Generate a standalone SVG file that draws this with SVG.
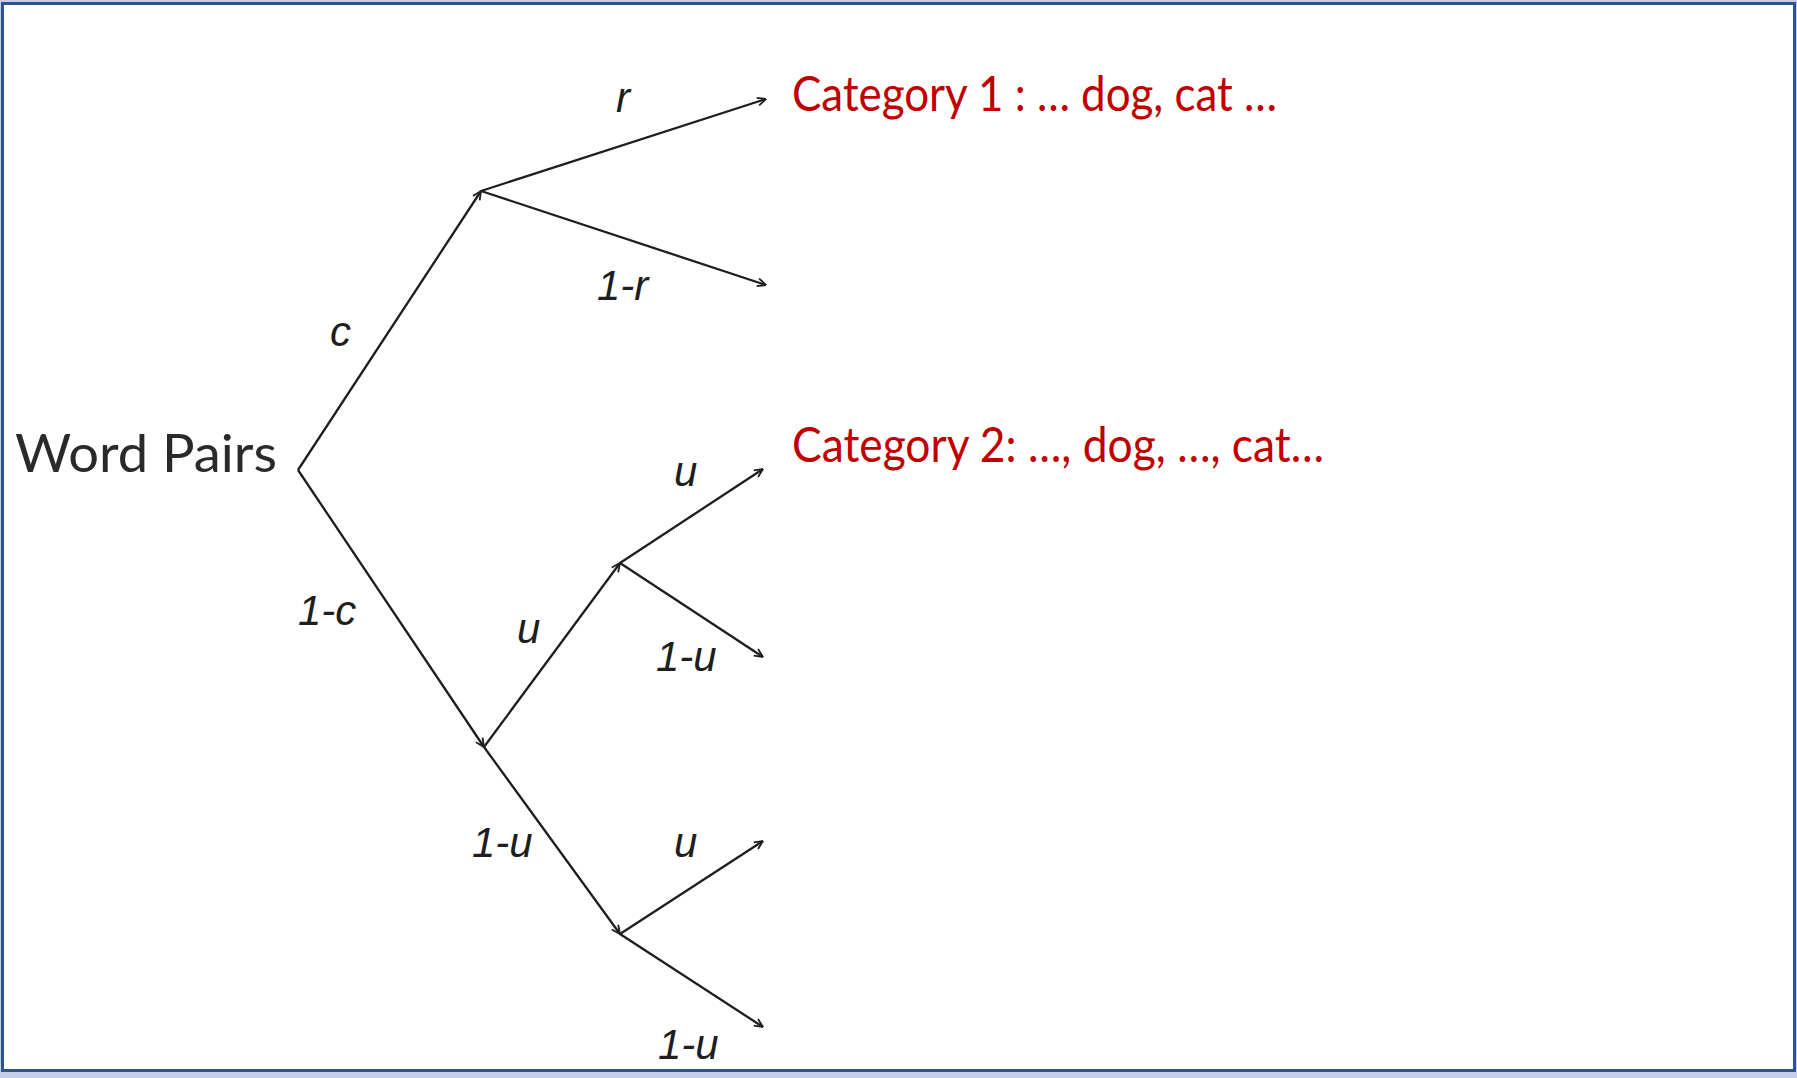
<svg xmlns="http://www.w3.org/2000/svg" width="1797" height="1078" viewBox="0 0 1797 1078">
<defs>
<style>
.edge{stroke:#1e1e1e;stroke-width:2.3;fill:none;marker-end:url(#arr)}
.lbl{font-family:"Liberation Sans",Arial,sans-serif;font-style:italic;font-size:42px;fill:#1e1e1e}
.cat{font-family:Lato,"Open Sans",sans-serif;font-size:49px;fill:#c00000}
.root{font-family:Lato,"Open Sans",sans-serif;font-size:52px;fill:#2a2a2a}
</style>
<marker id="arr" viewBox="0 0 10 10" refX="9.5" refY="5" markerWidth="10" markerHeight="10" markerUnits="userSpaceOnUse" orient="auto">
<path d="M1,1 L9.5,5 L1,9" fill="none" stroke="#1e1e1e" stroke-width="1.8"/>
</marker>
</defs>
<rect x="0" y="0" width="1797" height="1078" fill="#c8cde6"/>
<rect x="2.5" y="3.5" width="1792" height="1067" fill="#ffffff" stroke="#2b5590" stroke-width="3"/>
<g id="connectors">
<line class="edge" x1="298" y1="470" x2="481" y2="191"/>
<line class="edge" x1="298" y1="470" x2="484" y2="747"/>
<line class="edge" x1="481" y1="191" x2="766" y2="99"/>
<line class="edge" x1="481" y1="191" x2="766" y2="285"/>
<line class="edge" x1="484" y1="747" x2="620" y2="563"/>
<line class="edge" x1="484" y1="747" x2="620" y2="934"/>
<line class="edge" x1="620" y1="563" x2="763" y2="469"/>
<line class="edge" x1="620" y1="563" x2="763" y2="657"/>
<line class="edge" x1="620" y1="934" x2="763" y2="841"/>
<line class="edge" x1="620" y1="934" x2="763" y2="1027"/>
</g>
<g id="node-root"><text class="root" x="15" y="472" textLength="262" lengthAdjust="spacingAndGlyphs">Word Pairs</text></g>
<g id="node-cat1"><text class="cat" x="792" y="111" textLength="485" lengthAdjust="spacingAndGlyphs">Category 1 : … dog, cat …</text></g>
<g id="node-cat2"><text class="cat" x="792" y="462" textLength="532" lengthAdjust="spacingAndGlyphs">Category 2: …, dog, …, cat…</text></g>
<g id="labels">
<text class="lbl" x="616" y="112">r</text>
<text class="lbl" x="597" y="300">1-r</text>
<text class="lbl" x="330" y="346">c</text>
<text class="lbl" x="298" y="625">1-c</text>
<text class="lbl" x="517" y="643">u</text>
<text class="lbl" x="674" y="486">u</text>
<text class="lbl" x="656" y="671">1-u</text>
<text class="lbl" x="472" y="857">1-u</text>
<text class="lbl" x="674" y="857">u</text>
<text class="lbl" x="658" y="1059">1-u</text>
</g>
</svg>
